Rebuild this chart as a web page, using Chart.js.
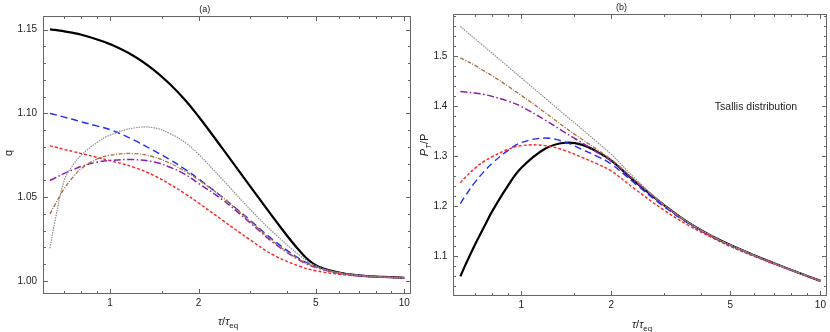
<!DOCTYPE html>
<html>
<head>
<meta charset="utf-8">
<script src="https://cdn.jsdelivr.net/npm/chart.js@4.4.0/dist/chart.umd.min.js"></script>
<style>
  body { margin: 0; background: #fff; font-family: "Liberation Sans", Arial, sans-serif; }
  #wrap { position: relative; width: 830px; height: 332px; }
  .box { position: absolute; top: 0; width: 415px; height: 332px; }
  .lbl { position: absolute; font-size: 11px; color: #222; white-space: nowrap; transform: translate(-50%, -50%); }
  .rot { transform: translate(-50%, -50%) rotate(-90deg); }
  sub { font-size: 0.72em; vertical-align: -0.35em; line-height: 0; }
</style>
</head>
<body>
<div id="wrap">
  <div class="box" style="left:0"><canvas id="chartA" width="415" height="332"></canvas></div>
  <div class="box" style="left:415px"><canvas id="chartB" width="415" height="332"></canvas></div>
  <div class="lbl rot" style="left:8px;top:153px">q</div>
  <div class="lbl" style="left:228px;top:321px"><i>τ</i>/<i>τ</i><sub>eq</sub></div>
  <div class="lbl rot" style="left:424px;top:145px"><i>P</i><sub><i>T</i></sub>/P</div>
  <div class="lbl" style="left:642px;top:324px"><i>τ</i>/<i>τ</i><sub>eq</sub></div>
  <div class="lbl" style="left:756px;top:106px;font-size:10.5px">Tsallis distribution</div>
</div>
<script>
// proper time in units of tau_eq
const tau = [0.625, 0.65, 0.7, 0.75, 0.8, 0.9, 1, 1.2, 1.4, 1.6, 1.8, 2, 2.4, 3, 3.6, 4.4, 5, 6, 7, 8.5, 10];

// (a) q
const qBlack  = [1.1501, 1.1498, 1.1489, 1.1480, 1.1469, 1.1442, 1.1413, 1.1344, 1.1263, 1.1174, 1.1080, 1.0981, 1.0795, 1.0563, 1.0375, 1.0181, 1.0094, 1.0050, 1.0033, 1.0024, 1.0019];
const qBlue   = [1.1000, 1.0992, 1.0977, 1.0963, 1.0949, 1.0925, 1.0903, 1.0842, 1.0780, 1.0723, 1.0666, 1.0609, 1.0502, 1.0361, 1.0242, 1.0134, 1.0087, 1.0050, 1.0034, 1.0024, 1.0019];
const qRed    = [1.0806, 1.0799, 1.0784, 1.0772, 1.0760, 1.0738, 1.0718, 1.0679, 1.0632, 1.0576, 1.0520, 1.0465, 1.0365, 1.0244, 1.0154, 1.0088, 1.0061, 1.0040, 1.0030, 1.0023, 1.0019];
const qGray   = [1.0195, 1.0355, 1.0603, 1.0693, 1.0752, 1.0824, 1.0870, 1.0912, 1.0915, 1.0879, 1.0826, 1.0756, 1.0609, 1.0425, 1.0287, 1.0155, 1.0090, 1.0047, 1.0033, 1.0023, 1.0019];
const qBrown  = [1.0400, 1.0454, 1.0553, 1.0621, 1.0672, 1.0726, 1.0750, 1.0760, 1.0741, 1.0702, 1.0654, 1.0603, 1.0502, 1.0355, 1.0233, 1.0128, 1.0084, 1.0049, 1.0034, 1.0024, 1.0019];
const qPurple = [1.0599, 1.0614, 1.0642, 1.0664, 1.0684, 1.0708, 1.0719, 1.0724, 1.0711, 1.0678, 1.0636, 1.0582, 1.0487, 1.0346, 1.0227, 1.0125, 1.0081, 1.0047, 1.0032, 1.0023, 1.0019];

// (b) P_T / P
const rBlack  = [1.060, 1.083, 1.1238, 1.1586, 1.1906, 1.2402, 1.2766, 1.3146, 1.3266, 1.3225, 1.308, 1.291, 1.249, 1.2024, 1.1682, 1.1384, 1.1224, 1.1020, 1.0860, 1.0666, 1.0510];
const rBlue   = [1.205, 1.221, 1.248, 1.269, 1.286, 1.311, 1.327, 1.336, 1.328, 1.313, 1.299, 1.284, 1.245, 1.1990, 1.1665, 1.1370, 1.1215, 1.1015, 1.0857, 1.0664, 1.0509];
const rRed    = [1.247, 1.258, 1.276, 1.2895, 1.299, 1.313, 1.321, 1.321, 1.311, 1.297, 1.284, 1.270, 1.234, 1.1920, 1.1625, 1.1355, 1.1195, 1.1000, 1.0848, 1.0658, 1.0505];
const rGray   = [1.559, 1.550, 1.534, 1.519, 1.505, 1.479, 1.456, 1.416, 1.382, 1.353, 1.327, 1.3034, 1.2554, 1.2024, 1.1682, 1.1384, 1.1224, 1.1020, 1.0860, 1.0666, 1.0510];
const rBrown  = [1.496, 1.491, 1.481, 1.470, 1.460, 1.440, 1.421, 1.387, 1.357, 1.333, 1.312, 1.293, 1.252, 1.2024, 1.1682, 1.1384, 1.1224, 1.1020, 1.0860, 1.0666, 1.0510];
const rPurple = [1.429, 1.428, 1.426, 1.423, 1.419, 1.410, 1.399, 1.372, 1.347, 1.326, 1.307, 1.290, 1.250, 1.2024, 1.1682, 1.1384, 1.1224, 1.1020, 1.0860, 1.0666, 1.0510];

// ticks
const xTicks = [1, 2, 5, 10];
const xMinor = [0.7, 0.8, 0.9, 1.5, 3, 4, 6, 7, 8, 9];
const qTicks = [1.00, 1.05, 1.10, 1.15];
const qMinor = [1.01, 1.02, 1.03, 1.04, 1.06, 1.07, 1.08, 1.09, 1.11, 1.12, 1.13, 1.14];
const rTicks = [1.1, 1.2, 1.3, 1.4, 1.5];
const rMinor = [1.04, 1.06, 1.08, 1.12, 1.14, 1.16, 1.18, 1.22, 1.24, 1.26, 1.28, 1.32, 1.34, 1.36, 1.38, 1.42, 1.44, 1.46, 1.48, 1.52, 1.54, 1.56, 1.58];

Chart.defaults.font.family = '"Liberation Sans", Arial, sans-serif';
Chart.defaults.color = '#222';

// frame with inward ticks on all four sides (Mathematica style)
const frameTicks = {
  id: 'frameTicks',
  afterDatasetsDraw(chart, args, o) {
    const { ctx, chartArea: a, scales: { x, y } } = chart;
    const L = Math.round(a.left) + 0.5, R = Math.round(a.right) + 0.5;
    const T = Math.round(a.top) + 0.5, B = Math.round(a.bottom) + 0.5;
    ctx.save();
    ctx.strokeStyle = '#666';
    ctx.lineWidth = 1;
    ctx.strokeRect(L, T, R - L, B - T);
    ctx.beginPath();
    const vx = (vals, len) => vals.forEach(v => {
      const p = Math.round(x.getPixelForValue(v)) + 0.5;
      ctx.moveTo(p, B); ctx.lineTo(p, B - len);
      ctx.moveTo(p, T); ctx.lineTo(p, T + len);
    });
    const vy = (vals, len) => vals.forEach(v => {
      const p = Math.round(y.getPixelForValue(v)) + 0.5;
      ctx.moveTo(L, p); ctx.lineTo(L + len, p);
      ctx.moveTo(R, p); ctx.lineTo(R - len, p);
    });
    vx(o.xMajor, 4.5); vx(o.xMinor, 2.5);
    vy(o.yMajor, 4.5); vy(o.yMinor, 2.5);
    ctx.stroke();
    ctx.restore();
  }
};

const styles = {
  black:  { borderColor: '#000000', borderWidth: 2.2, borderDash: [] },
  blue:   { borderColor: '#1f2bff', borderWidth: 1.4, borderDash: [7, 4] },
  red:    { borderColor: '#ff2020', borderWidth: 1.4, borderDash: [3, 2] },
  gray:   { borderColor: '#8f8f8f', borderWidth: 1.2, borderDash: [1.5, 1] },
  brown:  { borderColor: '#a5713d', borderWidth: 1.3, borderDash: [4, 1.5, 1, 1.5] },
  purple: { borderColor: '#8a1fa8', borderWidth: 1.5, borderDash: [7, 2.5, 1.5, 2.5] }
};

function series(name, vals) {
  return Object.assign({
    label: name,
    data: tau.map((t, i) => ({ x: t, y: vals[i] })),
    pointRadius: 0,
    fill: false,
    tension: 0.4
  }, styles[name]);
}

function makeChart(id, cfg) {
  return new Chart(document.getElementById(id), {
    type: 'line',
    data: { datasets: cfg.datasets },
    options: {
      responsive: false,
      animation: false,
      layout: { padding: { left: 0, right: cfg.padRight, top: 0, bottom: 0 } },
      plugins: {
        legend: { display: false },
        tooltip: { enabled: false },
        title: { display: true, text: cfg.title, font: { size: 9, weight: 'normal' }, padding: { top: cfg.titleTop, bottom: 1 } },
        frameTicks: { xMajor: xTicks, xMinor: xMinor, yMajor: cfg.yTicks, yMinor: cfg.yMinor }
      },
      scales: {
        x: {
          type: 'logarithmic',
          min: 0.592, max: 10.42,
          grid: { display: false, drawTicks: false },
          border: { display: false },
          afterBuildTicks: s => { s.ticks = xTicks.map(v => ({ value: v })); },
          afterFit: s => { s.height = cfg.xHeight; },
          ticks: { font: { size: 10 }, padding: 4, maxRotation: 0, callback: v => String(v) }
        },
        y: {
          min: cfg.yMin, max: cfg.yMax,
          grid: { display: false, drawTicks: false },
          border: { display: false },
          afterBuildTicks: s => { s.ticks = cfg.yTicks.map(v => ({ value: v })); },
          afterFit: s => { s.width = cfg.yWidth; },
          ticks: { font: { size: 10 }, padding: 6, callback: v => v.toFixed(cfg.digits) }
        }
      }
    },
    plugins: [frameTicks]
  });
}

makeChart('chartA', {
  title: '(a)', titleTop: 4, padRight: 5.5, xHeight: 39, yWidth: 43,
  yMin: 0.9928, yMax: 1.1582, yTicks: qTicks, yMinor: qMinor, digits: 2,
  datasets: [
    series('gray', qGray), series('brown', qBrown), series('purple', qPurple),
    series('red', qRed), series('blue', qBlue), series('black', qBlack)
  ]
});

makeChart('chartB', {
  title: '(b)', titleTop: 2, padRight: 2, xHeight: 37, yWidth: 38.3,
  yMin: 1.0228, yMax: 1.584, yTicks: rTicks, yMinor: rMinor, digits: 1,
  datasets: [
    series('gray', rGray), series('brown', rBrown), series('purple', rPurple),
    series('red', rRed), series('blue', rBlue), series('black', rBlack)
  ]
});
</script>
</body>
</html>
